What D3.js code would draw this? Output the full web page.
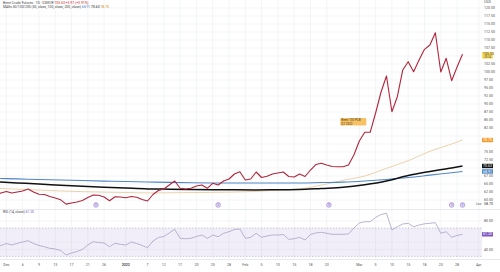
<!DOCTYPE html>
<html><head><meta charset="utf-8">
<script src="https://cdn.jsdelivr.net/npm/d3@7"></script>
<style>html,body{margin:0;padding:0;background:#fff;}svg{display:block;font-family:Roboto,"Liberation Sans",sans-serif;}</style>
</head><body>
<svg id="c" width="500" height="272"></svg>
<script>
// ---- data (one value per trading bar) ----
const closes = [61.56,62.19,62.66,62.19,62.50,62.81,63.44,62.50,61.78,61.72,
61.09,60.62,60.06,58.70,59.06,59.37,59.84,60.78,61.56,61.47,
60.94,59.78,61.03,60.94,60.69,61.09,60.87,60.16,59.69,61.72,
62.97,63.44,64.69,65.94,63.66,63.44,63.66,64.37,64.69,63.66,
65.22,64.69,65.94,66.56,68.12,68.84,66.25,66.56,68.75,67.03,
67.41,68.12,68.44,68.75,67.34,67.19,68.12,67.34,69.37,71.09,
71.47,70.94,70.47,70.41,70.41,70.94,74.06,78.44,81.16,81.16,
87.19,93.75,98.75,87.59,92.28,100.63,103.22,100.09,103.75,107.09,
108.44,112.28,100.00,104.28,97.28,101.56,105.53];
const rsi = [43.25,45.37,48.20,46.08,48.48,50.32,52.16,48.20,45.37,43.53,
41.41,40.42,38.30,31.94,34.77,36.89,39.72,46.08,50.74,49.61,
48.91,43.68,48.48,47.07,46.08,50.32,48.20,45.37,42.26,51.73,
56.68,58.09,63.04,68.27,55.55,54.84,55.55,58.09,60.21,55.55,
60.21,57.81,62.61,64.88,67.99,68.69,55.55,56.96,62.61,56.96,
58.80,60.21,60.21,60.92,54.13,54.84,56.96,53.15,60.92,63.04,
64.03,62.61,61.20,61.20,61.20,61.63,70.11,77.17,79.01,79.01,
84.95,89.19,90.88,67.28,71.94,75.76,76.75,71.94,74.35,76.04,
76.75,77.60,62.61,64.88,56.96,59.51,61.20];
const maIdx = [0,4,8,12,16,20,24,28,32,36,40,44,48,52,56,60,64,68,72,76,80,84,86];
const maBlue = [66.76,66.59,66.42,66.25,66.08,65.91,65.78,65.64,65.50,65.37,65.31,65.31,65.31,65.31,65.31,65.45,65.59,65.95,66.43,67.01,67.77,68.54,68.91];
const maBlack = [65.71,65.34,64.98,64.62,64.29,64.02,63.74,63.47,63.38,63.31,63.24,63.18,63.15,63.20,63.28,63.61,63.95,64.77,65.95,67.66,68.91,70.00,70.63];
const maTan = [63.65,63.38,63.11,62.84,62.62,62.47,62.33,62.20,62.25,62.31,62.38,62.49,62.69,63.08,63.43,64.66,66.13,67.49,69.89,72.28,75.23,77.48,78.75];
const tickIdx = [2,5,8,11,14,17,20,24,28,31,34,37,40,43,46,49,52,55,58,61,67,70,73,76,79,82,85,89];
const tickText = ["Dec","6","9","13","17","21","26","2022","7","12","17","20","25","28","Feb","5","10","15","18","23","Mar","5","10","15","18","23","28","Apr"];
const boldTicks = ["2022"];
const priceTicks = d3.range(60, 120.01, 2.5);
const rsiTicks = [40, 80];
const eventIdx = [18.5, 41, 61.4, 84, 86];
const lowValue = 58.70;
const legendTitle = "Brent Crude Futures · 1D · ICEEUR";
const legendMA = "MAEx 50/100/200 (50, close, 100, close, 200, close)";
const annotation = ["Brent 100 PCB", "Q1 2022"];

// ---- layout ----
const svg = d3.select("#c");
const plotR = 482, mainTop = 0, mainBot = 209, rsiTop = 210, rsiBot = 259;
const x = d3.scaleLinear().domain([0, 86]).range([-4.5, 462.5]);
const y = d3.scaleLinear().domain([100, 60]).range([72, 200]);
const yr = d3.scaleLinear().domain([80, 40]).range([221, 249.3]);
const fs = 3.6;

svg.append("defs").html(`<clipPath id="cm"><rect x="0" y="${mainTop}" width="${plotR}" height="${mainBot-mainTop}"/></clipPath>
<clipPath id="cr"><rect x="0" y="${rsiTop}" width="${plotR}" height="${rsiBot-rsiTop}"/></clipPath>`);

const grid = svg.append("g").attr("stroke", "#eceef2").attr("stroke-width", 0.6);
tickIdx.forEach(i => grid.append("line").attr("x1", x(i)).attr("x2", x(i)).attr("y1", 0).attr("y2", rsiBot));
priceTicks.forEach(p => { if (y(p) > 0 && y(p) < mainBot) grid.append("line").attr("x1", 0).attr("x2", plotR).attr("y1", y(p)).attr("y2", y(p)); });
rsiTicks.forEach(v => grid.append("line").attr("x1", 0).attr("x2", plotR).attr("y1", yr(v)).attr("y2", yr(v)));

svg.append("line").attr("x1", 0).attr("x2", 500).attr("y1", mainBot + 0.5).attr("y2", mainBot + 0.5).attr("stroke", "#e0e3eb").attr("stroke-width", 0.8);
svg.append("line").attr("x1", 0).attr("x2", 500).attr("y1", rsiBot + 0.5).attr("y2", rsiBot + 0.5).attr("stroke", "#e0e3eb").attr("stroke-width", 0.8);

// RSI band
svg.append("rect").attr("x", 0).attr("width", plotR).attr("y", yr(70)).attr("height", yr(30) - yr(70)).attr("fill", "#7e57c2").attr("opacity", 0.1).attr("clip-path", "url(#cr)");
[70, 30].forEach(v => svg.append("line").attr("x1", 0).attr("x2", plotR).attr("y1", yr(v)).attr("y2", yr(v)).attr("stroke", "#9a9cb0").attr("stroke-width", 0.5).attr("stroke-dasharray", "1.5,1.5"));
svg.append("line").attr("x1", 0).attr("x2", plotR).attr("y1", yr(50)).attr("y2", yr(50)).attr("stroke", "#c8cad6").attr("stroke-width", 0.4).attr("stroke-dasharray", "1,2");

const gm = svg.append("g").attr("clip-path", "url(#cm)");
const maLine = d3.line().x((d, k) => x(maIdx[k])).y(d => y(d)).curve(d3.curveMonotoneX);
gm.append("path").attr("d", maLine(maTan)).attr("fill", "none").attr("stroke", "#e6c896").attr("stroke-width", 0.8);
gm.append("path").attr("d", maLine(maBlue)).attr("fill", "none").attr("stroke", "#4f87c6").attr("stroke-width", 1.1);
gm.append("path").attr("d", maLine(maBlack)).attr("fill", "none").attr("stroke", "#111").attr("stroke-width", 1.5);
const pLine = d3.line().x((d, i) => x(i)).y(d => y(d));
gm.append("path").attr("d", pLine(closes)).attr("fill", "none").attr("stroke", "#b3243a").attr("stroke-width", 1.1).attr("stroke-linejoin", "round");

// annotation box
const aI = 63.5, aP = 85.6;
gm.append("rect").attr("x", x(aI)).attr("y", y(aP)).attr("width", 26).attr("height", 7.5).attr("rx", 0.8).attr("fill", "#f6b64a").attr("opacity", 0.85);
annotation.forEach((t, k) => gm.append("text").attr("x", x(aI) + 1).attr("y", y(aP) + 3.2 + k * 3.4).attr("font-size", 3).attr("fill", "#4a3a10").text(t));

// event markers
eventIdx.forEach(i => {
  const g = svg.append("g").attr("transform", `translate(${x(i)},205)`);
  g.append("circle").attr("r", 2.3).attr("fill", "#efeaf9").attr("stroke", "#8a6fd0").attr("stroke-width", 0.6);
  g.append("text").attr("text-anchor", "middle").attr("y", 1.1).attr("font-size", 3).attr("fill", "#7e57c2").text("D");
});

// RSI line
svg.append("g").attr("clip-path", "url(#cr)").append("path").attr("d", d3.line().x((d, i) => x(i)).y(d => yr(d))(rsi))
  .attr("fill", "none").attr("stroke", "#a8a2c2").attr("stroke-width", 0.8);

// price boxes (drawn first so tick labels can avoid them)
const last = closes[closes.length - 1];
const boxes = [
  {v: maTan[maTan.length - 1], s: y, bg: "#f59a2a", fg: "#fff"},
  {v: maBlack[maBlack.length - 1], s: y, bg: "#111", fg: "#fff"},
  {v: maBlue[maBlue.length - 1], s: y, bg: "#4f87c6", fg: "#fff"},
  {v: last, s: y, bg: "#f5dd6a", fg: "#5a3c00", sub: "−00:34"},
  {v: rsi[rsi.length - 1], s: yr, bg: "#7e57c2", fg: "#fff"}
];
// low marker label
const lowY = y(lowValue);
const busy = boxes.map(b => ({y0: b.s(b.v) - 2.2, y1: b.s(b.v) - 2.2 + (b.sub ? 6.5 : 4.4)}));
busy.push({y0: lowY - 2, y1: lowY + 2});

// price axis labels
const ax = svg.append("g").attr("font-size", fs).attr("fill", "#555");
function free(yy) { return busy.every(b => yy + 1.6 < b.y0 - 0.4 || yy - 1.6 > b.y1 + 0.4); }
priceTicks.forEach(p => { const yy = y(p); if (yy > 5 && yy < 206 && free(yy)) ax.append("text").attr("x", 484).attr("y", yy + 1.2).text(p.toFixed(2)); });
rsiTicks.forEach(v => { if (free(yr(v))) ax.append("text").attr("x", 484).attr("y", yr(v) + 1.2).text(v.toFixed(2)); });
ax.append("text").attr("x", 484).attr("y", 3.2).text("USD");

boxes.forEach(b => {
  const yy = b.s(b.v), h = b.sub ? 6.5 : 4.4;
  svg.append("rect").attr("x", 482).attr("y", yy - 2.2).attr("width", 11).attr("height", h).attr("fill", b.bg);
  svg.append("text").attr("x", 483).attr("y", yy + 1.1).attr("font-size", fs).attr("fill", b.fg).text(b.v.toFixed(2));
  if (b.sub) svg.append("text").attr("x", 483).attr("y", yy + 3.9).attr("font-size", 2.6).attr("fill", b.fg).text(b.sub);
});
svg.append("text").attr("x", 476).attr("y", lowY + 1.1).attr("font-size", 3).attr("fill", "#555").text("Low");
svg.append("text").attr("x", 484).attr("y", lowY + 1.1).attr("font-size", fs).attr("fill", "#333").text(lowValue.toFixed(2));

// x labels
const xl = svg.append("g").attr("font-size", fs).attr("fill", "#555").attr("text-anchor", "middle");
tickIdx.forEach((i, k) => xl.append("text").attr("x", x(i)).attr("y", 265.5).attr("font-weight", boldTicks.includes(tickText[k]) ? "bold" : null).text(tickText[k]));

// legends
const lg = svg.append("g").attr("font-size", 3.4);
const t1 = lg.append("text").attr("x", 3).attr("y", 3.6).attr("fill", "#444");
t1.append("tspan").text(legendTitle + "  ");
const chg = last - closes[closes.length - 2];
t1.append("tspan").attr("fill", "#c62828").text(`${last.toFixed(2)}  ${chg >= 0 ? "+" : "−"}${Math.abs(chg).toFixed(2)} (${chg >= 0 ? "+" : "−"}${Math.abs(chg / closes[closes.length - 2] * 100).toFixed(2)}%)`);
const t2 = lg.append("text").attr("x", 3).attr("y", 8).attr("fill", "#444");
t2.append("tspan").text(legendMA + "  ");
t2.append("tspan").attr("fill", "#4f87c6").text(maBlue[maBlue.length - 1].toFixed(2) + " ");
t2.append("tspan").attr("fill", "#111").text(maBlack[maBlack.length - 1].toFixed(2) + " ");
t2.append("tspan").attr("fill", "#d08a10").text(maTan[maTan.length - 1].toFixed(2));
const t3 = lg.append("text").attr("x", 3).attr("y", 213).attr("fill", "#444");
t3.append("tspan").text("RSI (14, close)  ");
t3.append("tspan").attr("fill", "#7e57c2").text(rsi[rsi.length - 1].toFixed(2));
</script>
</body></html>
